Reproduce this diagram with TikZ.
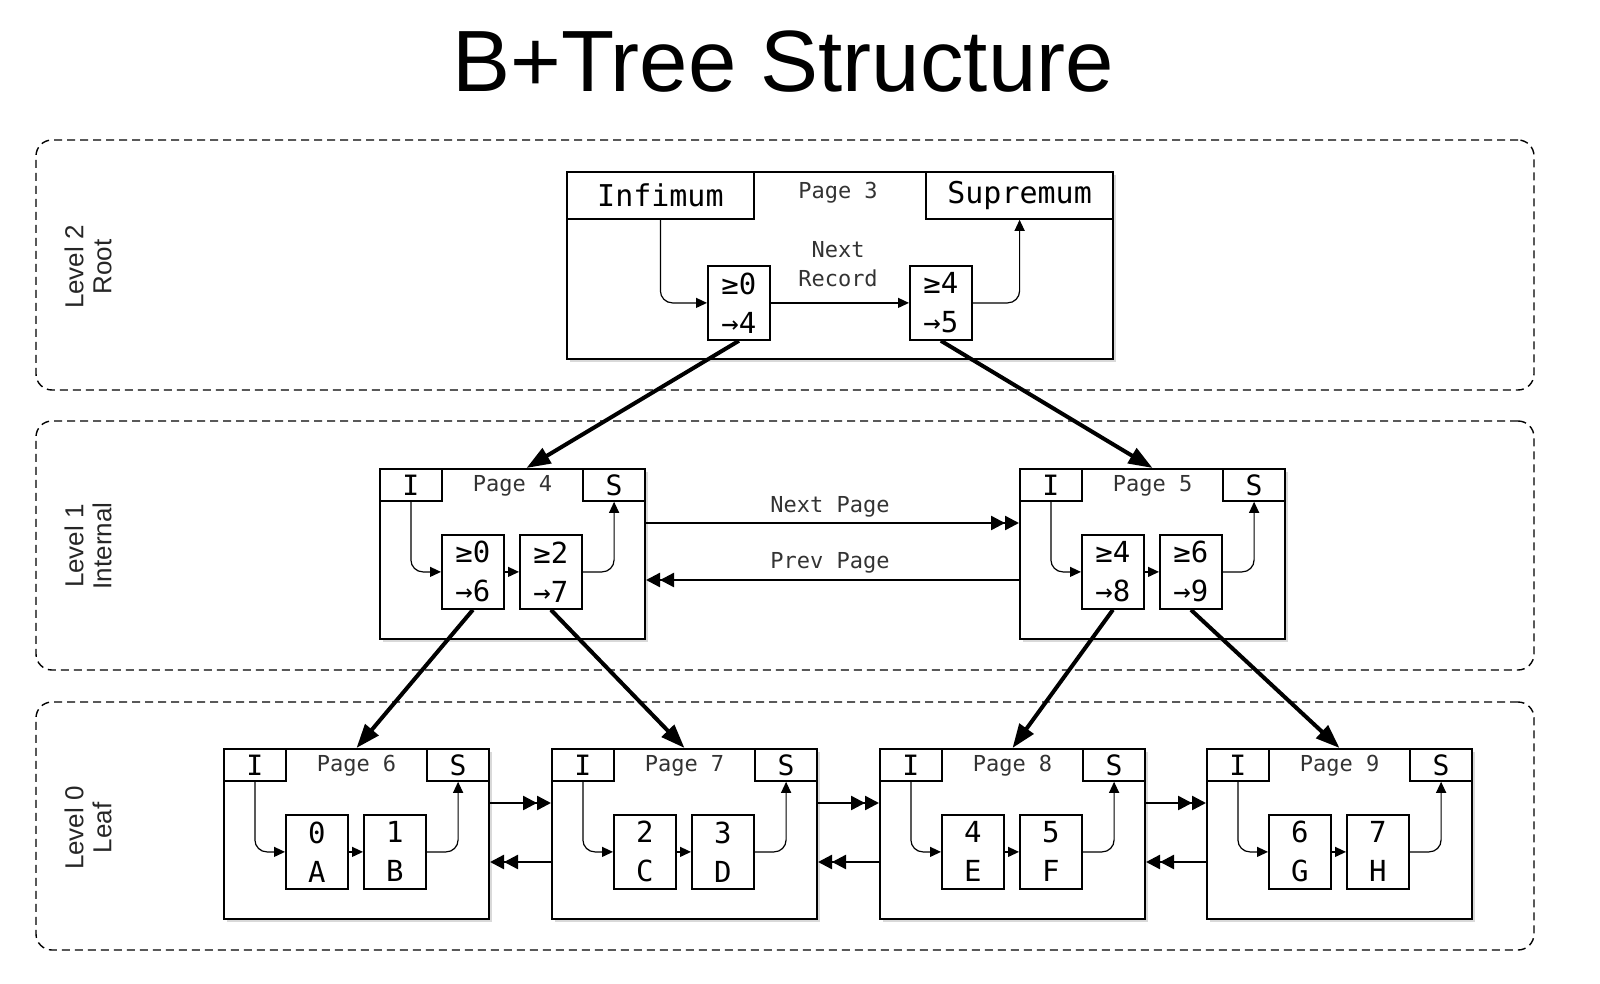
\documentclass[tikz,border=0pt]{standalone}
\usepackage{fontspec}
\setmainfont{Liberation Sans}
\newfontfamily\monofont{DejaVu Sans Mono}
\usetikzlibrary{arrows.meta,shadows,calc}

\tikzset{
 pagebox/.style={draw, line width=1pt, fill=white, anchor=north west, inner sep=0pt,
   drop shadow={shadow xshift=1.5pt, shadow yshift=-1.5pt, opacity=0.3}},
 hdrbox/.style={draw, line width=0.9pt, fill=white, inner sep=0pt, font=\monofont\fontsize{14}{16}\selectfont},
 recbox/.style={draw, line width=0.9pt, fill=white, inner sep=0pt, anchor=north west,
   minimum width=31pt, minimum height=37pt, align=center, font=\monofont\fontsize{14.5}{19.5}\selectfont},
 ptitle/.style={font=\monofont\fontsize{11}{14.5}\selectfont, text=black!80, align=center},
 thinarrow/.style={line width=0.6pt, -{Triangle[length=5.5pt,width=5pt]}},
 bigarrow/.style={line width=2pt, -{Triangle[length=12pt,width=8.5pt]}},
 dblarrow/.style={line width=1.2pt, -{Triangle[length=7pt,width=7pt]Triangle[length=7pt,width=7pt]}},
 levelbox/.style={draw, dash pattern=on 4pt off 2.5pt, rounded corners=8pt, line width=0.7pt, inner sep=0pt},
 levellabel/.style={rotate=90, align=center, font=\fontsize{13}{14}\selectfont, text=black!85},
}

\newcommand\smallpage[8]{%
 \node[pagebox, minimum width=132.5pt, minimum height=85pt] (#1) at (#2,#3) {};%
 \node[hdrbox, anchor=north west, minimum width=31pt, minimum height=16pt] (#1-I) at (#1.north west) {I};%
 \node[hdrbox, anchor=north east, minimum width=31pt, minimum height=16pt] (#1-S) at (#1.north east) {S};%
 \node[ptitle] (#1-t) at ($(#1.north)+(0,18)$) {Page #4};%
 \node[recbox] (#1-a) at ($(#1.north west)+(62,66)$) {#5\\#6};%
 \node[recbox] (#1-b) at ($(#1.north west)+(140,66)$) {#7\\#8};%
 \draw[thinarrow, rounded corners=6pt] (#1-I.south) |- (#1-a.west);%
 \draw[thinarrow] (#1-a.east) -- (#1-b.west);%
 \draw[thinarrow, rounded corners=6pt] (#1-b.east) -| (#1-S.south);%
}

\begin{document}
\begin{tikzpicture}[x=0.5pt, y=-0.5pt]
\useasboundingbox (0,0) rectangle (1600,984);

% title
\node[font=\fontsize{43.5}{50}\selectfont] (title) at (783,62) {B+Tree Structure};

% level boxes
\node[levelbox, minimum width=749pt, minimum height=125pt] (L2) at (785,265) {};
\node[levelbox, minimum width=749pt, minimum height=124.5pt] (L1) at (785,545.5) {};
\node[levelbox, minimum width=749pt, minimum height=124pt] (L0) at (785,826) {};
\node[levellabel] (L2t) at (88,267) {Level 2\\Root};
\node[levellabel] (L1t) at (88,546) {Level 1\\Internal};
\node[levellabel] (L0t) at (88,828) {Level 0\\Leaf};

% root page
\node[pagebox, minimum width=273pt, minimum height=93.5pt] (p3) at (566,171) {};
\node[hdrbox, anchor=north west, minimum width=93.5pt, minimum height=23.5pt,
      font=\monofont\fontsize{15}{17}\selectfont] (p3-I) at (p3.north west) {Infimum};
\node[hdrbox, anchor=north east, minimum width=93.5pt, minimum height=23.5pt,
      font=\monofont\fontsize{15}{17}\selectfont] (p3-S) at (p3.north east) {Supremum};
\node[ptitle] (p3-t) at (838,193) {Page 3};
\node[recbox] (p3-a) at (707,265) {≥0\\→4};
\node[recbox] (p3-b) at (909,265) {≥4\\→5};
\node[ptitle] (p3-n) at (838,264) {Next\\Record};
\draw[thinarrow, rounded corners=6pt] (p3-I.south) |- (p3-a.west);
\draw[thinarrow] (p3-a.east) -- (p3-b.west);
\draw[thinarrow, rounded corners=6pt] (p3-b.east) -| (p3-S.south);

% internal pages
\smallpage{p4}{379}{468}{4}{≥0}{→6}{≥2}{→7}
\smallpage{p5}{1019}{468}{5}{≥4}{→8}{≥6}{→9}

% leaf pages
\smallpage{p6}{223}{748}{6}{0}{A}{1}{B}
\smallpage{p7}{551}{748}{7}{2}{C}{3}{D}
\smallpage{p8}{879}{748}{8}{4}{E}{5}{F}
\smallpage{p9}{1206}{748}{9}{6}{G}{7}{H}

% tree pointers
\draw[bigarrow] (p3-a.south) -- ($(p4.north)+(14,0)$);
\draw[bigarrow] (p3-b.south) -- (p5.north);
\draw[bigarrow] (p4-a.south) -- (p6.north);
\draw[bigarrow] (p4-b.south) -- (p7.north);
\draw[bigarrow] (p5-a.south) -- (p8.north);
\draw[bigarrow] (p5-b.south) -- (p9.north);

% sibling links level 1
\draw[dblarrow] ($(p4.north east)+(0,55)$) -- ($(p5.north west)+(0,55)$);
\draw[dblarrow] ($(p5.north west)+(0,112)$) -- ($(p4.north east)+(0,112)$);
\node[ptitle] (np) at (830,507) {Next Page};
\node[ptitle] (pp) at (830,563) {Prev Page};

% sibling links level 0
\foreach \a/\b in {p6/p7, p7/p8, p8/p9}{
  \draw[dblarrow] ($(\a.north east)+(0,55)$) -- ($(\b.north west)+(0,55)$);
  \draw[dblarrow] ($(\b.north west)+(0,114)$) -- ($(\a.north east)+(0,114)$);
}
\end{tikzpicture}
\end{document}
